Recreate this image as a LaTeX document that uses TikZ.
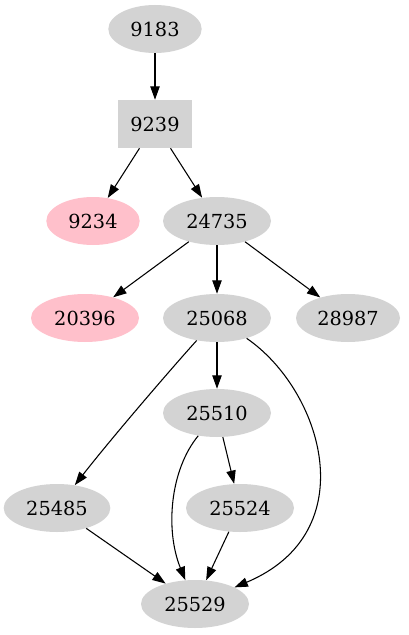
\documentclass[tikz,border=0pt]{standalone}
\usepackage{fontspec}
\setmainfont{DejaVu Serif}
\usetikzlibrary{shapes.geometric,arrows.meta}
\definecolor{lgray}{HTML}{D3D3D3}
\definecolor{pinkc}{HTML}{FFC0CB}
\begin{document}
\begin{tikzpicture}[x=0.75pt,y=-0.75pt,
  base/.style={inner sep=0pt, minimum height=36pt, font=\fontsize{14.5}{16}\selectfont},
  ell/.style={base, ellipse, fill=lgray, minimum width=81pt},
  ellfour/.style={ell, minimum width=70pt},
  pinkell/.style={ell, fill=pinkc},
  boxnode/.style={base, rectangle, fill=lgray, minimum width=55.5pt},
  conn/.style={draw=black, line width=0.8pt, -{Triangle[length=10pt,width=7pt]}}]
\useasboundingbox (0,0) rectangle (409,635);
\node[ellfour] (n9183) at (155,29) {9183};
\node[boxnode] (n9239) at (155,124) {9239};
\node[pinkell, minimum width=70pt] (n9234) at (93,221) {9234};
\node[ell] (n24735) at (217,221) {24735};
\node[pinkell] (n20396) at (85,318) {20396};
\node[ell] (n25068) at (217,318) {25068};
\node[ell, minimum width=78pt] (n28987) at (348,318) {28987};
\node[ell] (n25510) at (217,413) {25510};
\node[ell, minimum width=80pt] (n25485) at (57,508) {25485};
\node[ell] (n25524) at (240,508) {25524};
\node[ell] (n25529) at (195,604) {25529};
\draw[conn] (n9183) -- (n9239);
\draw[conn] (n9239) -- (n9234);
\draw[conn] (n9239) -- (n24735);
\draw[conn] (n24735) -- (n20396);
\draw[conn] (n24735) -- (n25068);
\draw[conn] (n24735) -- (n28987);
\draw[conn] (n25068) -- (n25510);
\draw[conn] (n25068) .. controls (170,370) and (110,440) .. (n25485);
\draw[conn] (n25068) .. controls (322,390) and (366,532) .. (n25529);
\draw[conn] (n25510) .. controls (170,470) and (165,530) .. (n25529);
\draw[conn] (n25510) -- (n25524);
\draw[conn] (n25524) -- (n25529);
\draw[conn] (n25485) -- (n25529);
\end{tikzpicture}
\end{document}
